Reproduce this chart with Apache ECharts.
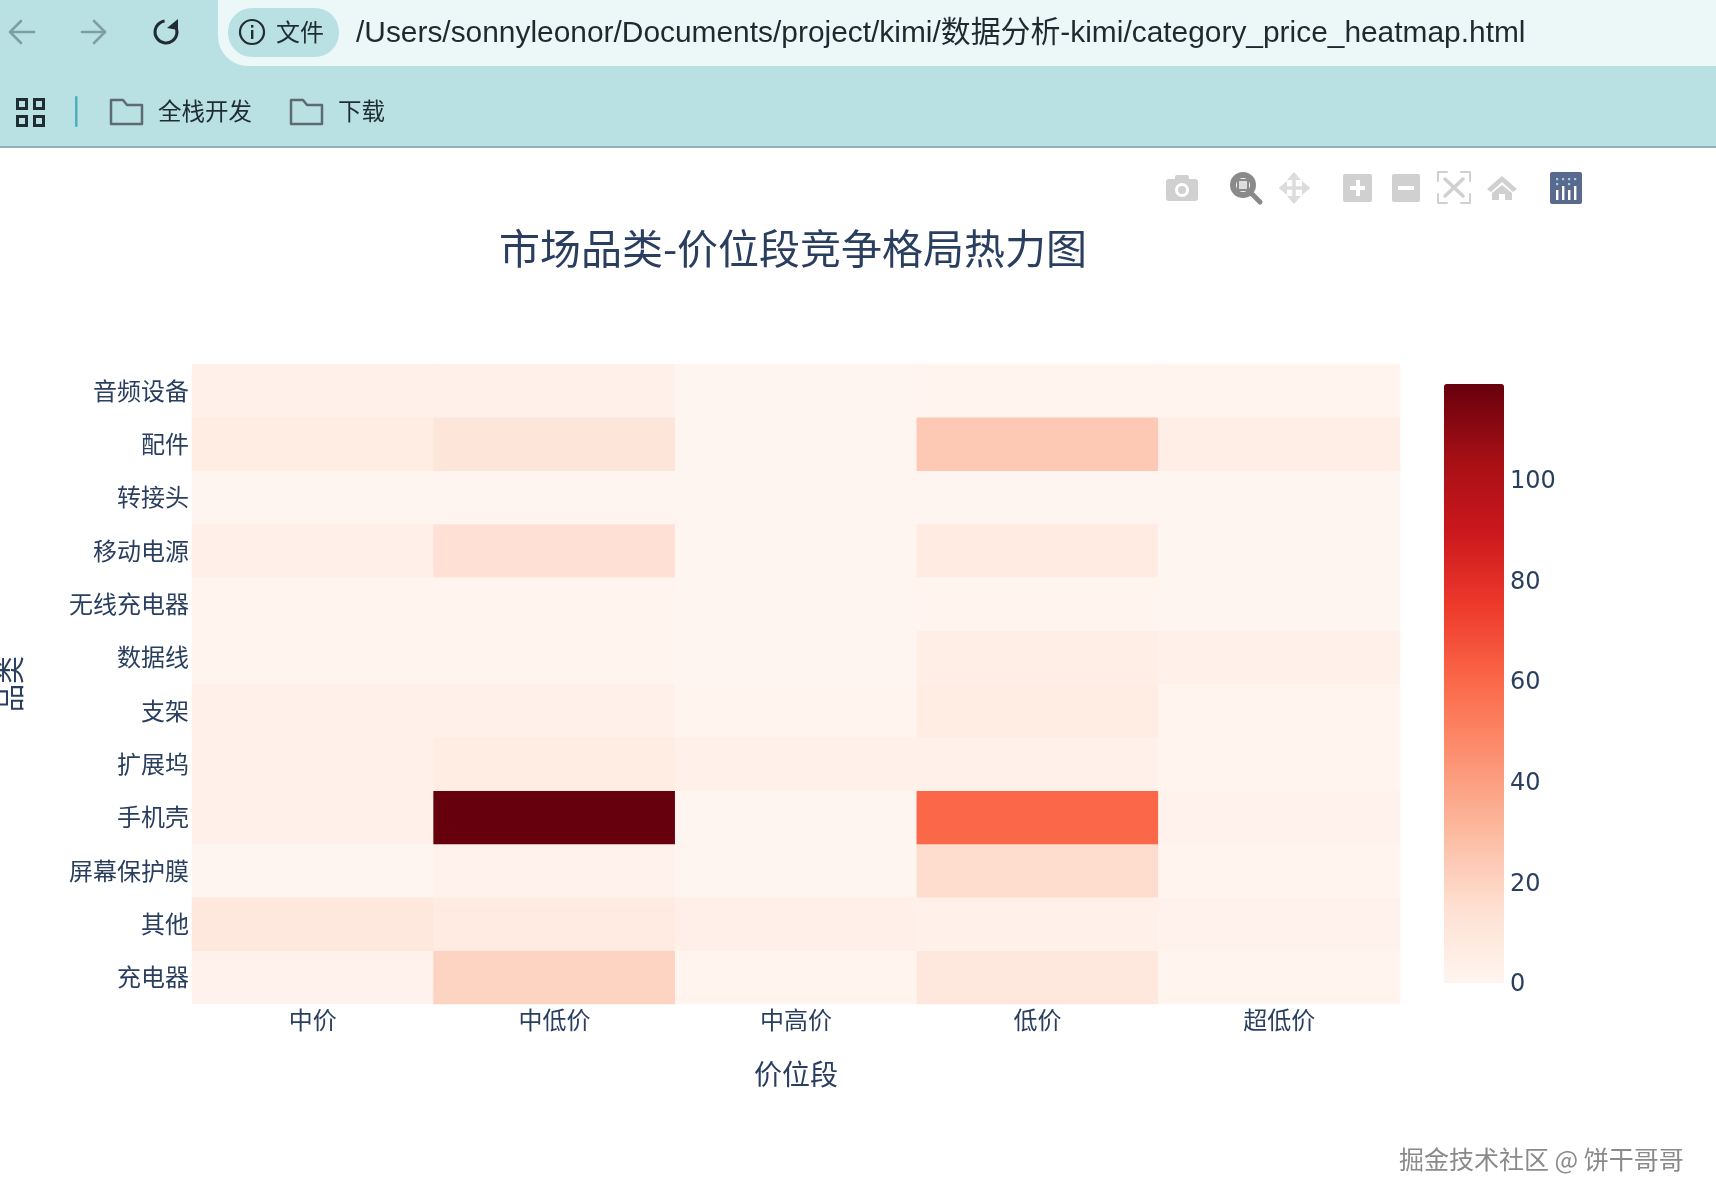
<!DOCTYPE html>
<html>
<head>
<meta charset="utf-8">
<style>html,body{margin:0;padding:0;background:#fff;overflow:hidden}#c{width:1716px;height:1204px}</style>
<script src="https://cdn.jsdelivr.net/npm/echarts@6/dist/echarts.min.js"></script>
</head>
<body>
<div id="c"></div>
<script>
const titleText = '市场品类-价位段竞争格局热力图';
const priceBands = ['中价', '中低价', '中高价', '低价', '超低价'];
// bottom-to-top, as the category axis runs
const categories = ['充电器', '其他', '屏幕保护膜', '手机壳', '扩展坞', '支架', '数据线', '无线充电器', '移动电源', '转接头', '配件', '音频设备'];
const rowCharger   = [2, 20, 1, 9, 1];
const rowOther     = [10, 7, 4, 3, 2];
const rowScreen    = [0, 2, 0, 16, 1];
const rowCase      = [3, 119, 0, 60, 2];
const rowDock      = [3, 6, 3, 3, 1];
const rowStand     = [3, 3, 1, 6, 1];
const rowCable     = [1, 1, 0, 5, 3];
const rowWireless  = [1, 1, 0, 1, 0];
const rowPower     = [4, 14, 0, 7, 0];
const rowAdapter   = [0, 0, 0, 0, 0];
const rowParts     = [6, 11, 0, 24, 5];
const rowAudio     = [3, 3, 0, 1, 1];
const rows = [rowCharger, rowOther, rowScreen, rowCase, rowDock, rowStand, rowCable, rowWireless, rowPower, rowAdapter, rowParts, rowAudio];
const reds = ['#fff5f0', '#fee0d2', '#fcbba1', '#fc9272', '#fb6a4a', '#ef3b2c', '#cb181d', '#a50f15', '#67000d'];
const colorMax = 119;

const cells = [];
rows.forEach((r, y) => r.forEach((v, x) => cells.push([x, y, v])));

const CJK = '"Noto Sans CJK SC","Noto Sans",sans-serif';
const INK = '#2a3f5f';
const BAR = '#b9e1e4';
const GREY = '#d0d0d0';

function txt(x, y, text, size, fill, align, family) {
  return {type:'text', silent:true, style:{x, y, text, fontSize:size, fill, align:align||'left', verticalAlign:'middle', fontFamily:family||CJK}};
}
function rect(x, y, w, h, fill, r) {
  return {type:'rect', silent:true, shape:{x, y, width:w, height:h, r:r||0}, style:{fill}};
}
function line(pts, stroke, w) {
  return {type:'polyline', silent:true, shape:{points:pts}, style:{stroke, lineWidth:w, fill:null, lineCap:'round', lineJoin:'round'}};
}
function folder(x, y) {
  return line([[x,y+24],[x,y],[x+12,y],[x+16,y+5],[x+31,y+5],[x+31,y+24],[x,y+24]], '#5d6b70', 2.5);
}

const chrome = [
  rect(0, 0, 1716, 146, BAR),
  rect(0, 146, 1716, 2, '#8fb3b8'),
  rect(218, -30, 1530, 96, '#ecf7f8', 30),
  rect(228, 8, 111, 49, BAR, 24),
  {type:'circle', silent:true, shape:{cx:252, cy:32, r:12}, style:{fill:null, stroke:'#1f2d33', lineWidth:2.2}},
  rect(251, 30, 2.4, 9, '#1f2d33'),
  rect(251, 25, 2.4, 2.6, '#1f2d33'),
  txt(276, 32, '文件', 24, '#1f2d33'),
  txt(356, 34, '/Users/sonnyleonor/Documents/project/kimi/数据分析-kimi/category_price_heatmap.html', 29.9, '#1d2a30', 'left', '"Liberation Sans","Noto Sans CJK SC",sans-serif'),
  line([[34,32],[11,32]], '#7f9ea3', 2.6), line([[21,21],[10,32],[21,43]], '#7f9ea3', 2.6),
  line([[82,32],[105,32]], '#7f9ea3', 2.6), line([[94,21],[105,32],[94,43]], '#7f9ea3', 2.6),
  {type:'arc', silent:true, shape:{cx:166, cy:32, r:11, startAngle:-0.6, endAngle:-1.3 + Math.PI*2 - 0.4, clockwise:true}, style:{stroke:'#1f2d33', lineWidth:3, fill:null}},
  {type:'polygon', silent:true, shape:{points:[[178,19],[178,30],[167,28]]}, style:{fill:'#1f2d33'}},
  ...[[16,98],[33,98],[16,115],[33,115]].map(p => ({type:'rect', silent:true, shape:{x:p[0]+1.5, y:p[1]+1.5, width:9, height:9}, style:{fill:null, stroke:'#1f2d33', lineWidth:3}})),
  rect(75, 96, 2.5, 31, '#4fb0bb', 1),
  folder(111, 100), txt(158, 111, '全栈开发', 23.5, '#1f2d33'),
  folder(291, 100), txt(338, 111, '下载', 23.5, '#1f2d33'),
  // modebar
  rect(1166, 179, 32, 22, GREY, 3), rect(1175, 175, 14, 6, GREY, 2),
  {type:'circle', silent:true, shape:{cx:1182, cy:190, r:7}, style:{fill:'#fff'}},
  {type:'circle', silent:true, shape:{cx:1182, cy:190, r:4}, style:{fill:GREY}},
  {type:'circle', silent:true, shape:{cx:1243, cy:185, r:10}, style:{fill:'#fff', stroke:'#8a8a8a', lineWidth:6}},
  rect(1237, 179, 12, 12, '#8a8a8a'), rect(1239, 181, 8, 8, '#ddd'),
  line([[1251,193],[1260,202]], '#8a8a8a', 5),
  line([[1281,188],[1308,188]], '#dcdcdc', 3.5), line([[1294,175],[1294,201]], '#dcdcdc', 3.5),
  {type:'polygon', silent:true, shape:{points:[[1294,172],[1301,180],[1287,180]]}, style:{fill:'#dcdcdc'}},
  {type:'polygon', silent:true, shape:{points:[[1294,204],[1301,196],[1287,196]]}, style:{fill:'#dcdcdc'}},
  {type:'polygon', silent:true, shape:{points:[[1279,188],[1287,181],[1287,195]]}, style:{fill:'#dcdcdc'}},
  {type:'polygon', silent:true, shape:{points:[[1310,188],[1302,181],[1302,195]]}, style:{fill:'#dcdcdc'}},
  rect(1343, 174, 29, 28, GREY, 2), rect(1350, 186, 15, 4, '#fff'), rect(1356, 180, 4, 16, '#fff'),
  rect(1392, 174, 28, 28, GREY, 2), rect(1398, 186, 16, 4, '#fff'),
  line([[1438,181],[1438,172],[1447,172]], GREY, 2), line([[1461,172],[1470,172],[1470,181]], GREY, 2),
  line([[1438,194],[1438,203],[1447,203]], GREY, 2), line([[1461,203],[1470,203],[1470,194]], GREY, 2),
  line([[1445,179],[1463,196]], GREY, 3.5), line([[1463,179],[1445,196]], GREY, 3.5),
  {type:'polygon', silent:true, shape:{points:[[1502,176],[1517,189],[1513,192],[1502,182],[1491,192],[1487,189]]}, style:{fill:GREY}},
  {type:'polygon', silent:true, shape:{points:[[1502,185],[1512,193],[1512,200],[1505,200],[1505,194],[1499,194],[1499,200],[1492,200],[1492,193]]}, style:{fill:GREY}},
  rect(1550, 172, 32, 32, '#5a6a8e', 2),
  ...[1556,1562,1568,1574].map((x,i) => rect(x, 186 + [4,0,4,0][i], 2.4, 14 - [4,0,4,0][i], '#fff')),
  ...[1556,1562,1568,1574].map(x => rect(x, 178, 2.2, 2.2, '#9fd3e0')),
  ...[1556,1568].map(x => rect(x, 183, 2.2, 2.2, '#9fd3e0')),
  // watermark
  {type:'text', silent:true, style:{x:1399, y:1159, text:'掘金技术社区 @ 饼干哥哥', fontSize:25, fill:'#8a8a8a', align:'left', verticalAlign:'middle', fontFamily:CJK}}
];

const chart = echarts.init(document.getElementById('c'), null, {renderer:'canvas'});
chart.setOption({
  animation:false,
  backgroundColor:'#fff',
  title:{text:titleText, left:788, top:223, textAlign:'center', textStyle:{fontSize:41, fontWeight:'normal', color:INK, fontFamily:CJK}},
  grid:[
    {left:192, width:1208, top:364, height:640, containLabel:false, outerBoundsMode:'none'},
    {left:1444, width:60, top:386, height:599, containLabel:false, outerBoundsMode:'none'}
  ],
  xAxis:[
    {type:'category', gridIndex:0, data:priceBands, name:'价位段', nameLocation:'middle', nameGap:56,
      nameTextStyle:{fontSize:28, color:INK, fontFamily:CJK},
      axisLine:{show:false}, axisTick:{show:false}, splitLine:{show:false}, splitArea:{show:false},
      axisLabel:{fontSize:24, color:INK, fontFamily:CJK, margin:4, interval:0}},
    {type:'value', gridIndex:1, show:false, min:0, max:1}
  ],
  yAxis:[
    {type:'category', gridIndex:0, data:categories, name:'品类', nameLocation:'middle', nameGap:168, nameRotate:90,
      nameTextStyle:{fontSize:28, color:INK, fontFamily:CJK},
      axisLine:{show:false}, axisTick:{show:false}, splitLine:{show:false}, splitArea:{show:false},
      axisLabel:{fontSize:24, color:INK, fontFamily:CJK, margin:3, interval:0, padding:[0,0,5,0]}},
    {type:'value', gridIndex:1, position:'right', min:0, max:colorMax, interval:20,
      axisLine:{show:false}, axisTick:{show:false}, splitLine:{show:false},
      axisLabel:{fontSize:24, color:INK, fontFamily:'"DejaVu Sans",sans-serif', margin:6, showMaxLabel:false}}
  ],
  visualMap:{
    type:'continuous', min:0, max:colorMax, seriesIndex:0, calculable:false, realtime:false,
    left:1444, top:384, padding:0, itemWidth:60, itemHeight:599, text:null, showLabel:false, hoverLink:false,
    inRange:{color:reds}, textStyle:{color:'rgba(0,0,0,0)', fontSize:1}, formatter:() => ''
  },
  series:[{type:'heatmap', data:cells, xAxisIndex:0, yAxisIndex:0, itemStyle:{borderWidth:0}, progressive:0}],
  graphic:{elements:chrome}
});
</script>
</body>
</html>
